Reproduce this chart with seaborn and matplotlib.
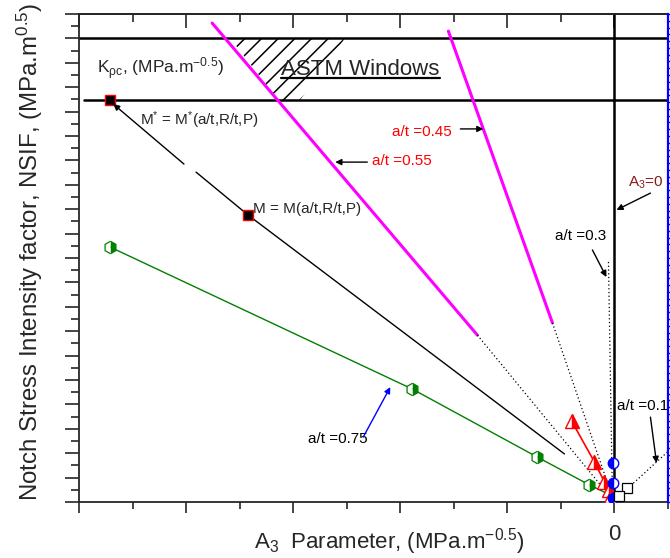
import matplotlib
matplotlib.use("Agg")
import numpy as np
import pandas as pd
import seaborn as sns
import matplotlib.pyplot as plt
from matplotlib.ticker import MultipleLocator
from matplotlib.patches import Polygon

# ---- data (A3 parameter, NSIF) ----
green_x = [-4.71, -1.888, -0.720, -0.234, -0.04]
green_y = [10.45, 4.63, 1.84, 0.70, 0.29]

red_x = [-0.40, -0.187, -0.093, -0.047, -0.028]
red_y = [3.32, 1.64, 0.82, 0.49, 0.25]

blue_x = [-0.01, -0.01, -0.01]
blue_y = [1.60, 0.78, 0.16]

sq_x = [0.121, 0.047]
sq_y = [0.57, 0.25]

m_line_x = [-3.907, -3.421, -0.467]
m_line_y = [13.52, 11.76, 1.97]
m_pts_x = [-4.71, -3.421]
m_pts_y = [16.48, 11.76]

mag55_x = [-3.757, -1.280]
mag55_y = [19.63, 6.84]
mag45_x = [-1.551, -0.579]
mag45_y = [19.30, 7.34]

dot55_x = [-1.280, -0.037]
dot55_y = [6.84, 0.20]
dot45_x = [-0.579, -0.019]
dot45_y = [7.34, 0.20]
dot30_x = [-0.056, -0.019]
dot30_y = [9.84, 0.20]
dot10_x = [0.047, 0.495]
dot10_y = [0.25, 2.05]

kpc_upper = 19.0
kpc_lower = 16.48
hatch_x = [-3.589, -2.514, -2.935, -3.140]
hatch_y = [19.02, 19.02, 16.48, 16.48]

sns.set_style("ticks")
plt.rcParams["font.family"] = ["Liberation Sans", "DejaVu Sans"]
plt.rcParams["mathtext.default"] = "regular"
plt.rcParams["hatch.linewidth"] = 1.1

fig = plt.figure(figsize=(6.7, 5.58), dpi=100)
ax = fig.add_axes([79 / 670, 56 / 558, 589 / 670, 488 / 558])

# window lines
ax.axhline(kpc_upper, color="black", lw=1.8, zorder=2)
ax.plot([-4.95, 0.5], [kpc_lower, kpc_lower], color="black", lw=1.8, zorder=2)
ax.axvline(0, color="black", lw=1.8, zorder=2)
ax.add_patch(Polygon(list(zip(hatch_x, hatch_y)), closed=True, fill=False,
                     hatch="//", lw=0, edgecolor="black"))

# magenta and dotted lines
sns.lineplot(x=mag55_x, y=mag55_y, color="#ff00ff", lw=2.2, sort=False, estimator=None, ax=ax)
sns.lineplot(x=mag45_x, y=mag45_y, color="#ff00ff", lw=2.2, sort=False, estimator=None, ax=ax)
for dx, dy in [(dot55_x, dot55_y), (dot45_x, dot45_y), (dot30_x, dot30_y), (dot10_x, dot10_y)]:
    sns.lineplot(x=dx, y=dy, color="black", lw=0.9, ls=(0, (1, 2)), sort=False, estimator=None, ax=ax)

# black M line
sns.lineplot(x=m_line_x, y=m_line_y, color="black", lw=1.0, sort=False, estimator=None, ax=ax)
sns.lineplot(x=m_pts_x, y=m_pts_y, color="black", lw=0, marker="s", markersize=7,
             markeredgecolor="red", markeredgewidth=1.0, sort=False, estimator=None, ax=ax)

# green hexagons
sns.lineplot(x=green_x, y=green_y, color="green", lw=1.0, marker="h", markersize=9,
             markeredgecolor="green", markeredgewidth=0.9, fillstyle="right",
             markerfacecoloralt="white", markevery=[0, 1, 2, 3],
             sort=False, estimator=None, ax=ax)

# red triangles
sns.lineplot(x=red_x, y=red_y, color="red", lw=1.2, marker="^", markersize=9.5,
             markeredgecolor="red", markeredgewidth=1.0, fillstyle="right",
             markerfacecoloralt="white", sort=False, estimator=None, ax=ax, zorder=4)

# blue circles
sns.lineplot(x=blue_x, y=blue_y, color="blue", lw=0, marker="o", markersize=7.5,
             markeredgecolor="blue", markeredgewidth=1.0, fillstyle="left",
             markerfacecoloralt="white", sort=False, estimator=None, ax=ax, zorder=4)

# black open squares
sns.lineplot(x=sq_x, y=sq_y, color="black", lw=0, marker="s", markersize=6.5,
             markeredgecolor="black", markeredgewidth=0.9, markerfacecolor="white",
             sort=False, estimator=None, ax=ax, zorder=4)

# text and annotations
ax.text(-4.832, 17.55, r"K$_{\rho c}$, (MPa.m$^{-0.5}$)", fontsize=12.5, va="baseline")
astm = ax.text(-3.112, 17.5, "ASTM Windows", fontsize=16, va="baseline")
ax.text(-4.43, 15.45, r"M$^{*}$ = M$^{*}$(a/t,R/t,P)", fontsize=11, va="baseline")
ax.text(-3.374, 11.84, "M = M(a/t,R/t,P)", fontsize=11, va="baseline")

ap = dict(arrowstyle="-|>", color="black", lw=1.0, mutation_scale=9, shrinkA=0, shrinkB=0)
ax.annotate("", xy=(-4.68, 16.31), xytext=(-4.02, 13.85), arrowprops=ap)

ax.text(-2.262, 13.81, "a/t =0.55", color="red", fontsize=11, va="baseline")
ax.annotate("", xy=(-2.607, 13.93), xytext=(-2.308, 13.93), arrowprops=ap)
ax.text(-2.075, 15.0, "a/t =0.45", color="red", fontsize=11, va="baseline")
ax.annotate("", xy=(-1.224, 15.29), xytext=(-1.439, 15.29), arrowprops=ap)
ax.text(0.131, 12.91, r"A$_3$=0", color="#8b1a1a", fontsize=11, va="baseline")
ax.annotate("", xy=(0.019, 11.97), xytext=(0.336, 12.66), arrowprops=ap)
ax.text(-0.551, 10.74, "a/t =0.3", color="black", fontsize=11, va="baseline")
ax.annotate("", xy=(-0.075, 9.22), xytext=(-0.206, 10.33), arrowprops=ap)
ax.text(-2.86, 2.42, "a/t =0.75", color="black", fontsize=11, va="baseline")
ax.annotate("", xy=(-2.093, 4.71), xytext=(-2.346, 2.66),
            arrowprops=dict(ap, color="blue"))
ax.text(0.028, 3.77, "a/t =0.1", color="black", fontsize=11, va="baseline")
ax.annotate("", xy=(0.393, 1.60), xytext=(0.336, 3.48), arrowprops=ap)

# axes limits & ticks
ax.set_xlim(-5, 0.5)
ax.set_ylim(0, 20)
xt = [-5, -4, -3, -2, -1, 0]
ax.set_xticks(xt, labels=["", "", "", "", "", "0"])
ax.xaxis.set_minor_locator(MultipleLocator(0.5))
ax.yaxis.set_major_locator(MultipleLocator(1))
ax.yaxis.set_minor_locator(MultipleLocator(0.5))
ax.set_yticklabels([])
ax.tick_params(axis="x", which="major", direction="out", length=8, width=1.2, labelsize=16, pad=8)
ax.tick_params(axis="x", which="minor", direction="out", length=5, width=1.2)
ax.tick_params(axis="y", which="major", direction="out", length=10, width=1.2)
ax.tick_params(axis="y", which="minor", direction="out", length=6, width=1.2)
for s in ["left", "bottom", "top"]:
    ax.spines[s].set_linewidth(1.3)
ax.spines["right"].set_visible(False)

top = ax.secondary_xaxis("top")
top.set_xticks(xt, labels=[""] * 6)
top.xaxis.set_minor_locator(MultipleLocator(0.5))
top.tick_params(which="major", direction="in", length=10, width=1.2)
top.tick_params(which="minor", direction="in", length=6, width=1.2)
top.spines["top"].set_linewidth(1.3)

rax = ax.twinx()
rax.set_ylim(0, 36)
rax.yaxis.set_major_locator(MultipleLocator(1))
rax.yaxis.set_minor_locator(MultipleLocator(0.5))
rax.set_yticklabels([])
rax.tick_params(axis="y", which="both", direction="out", length=4, width=1.0, color="blue")
rax.spines["right"].set_color("blue")
rax.spines["right"].set_linewidth(1.6)
for s in ["left", "top", "bottom"]:
    rax.spines[s].set_visible(False)

ax.set_xlabel(r"A$_3$  Parameter, (MPa.m$^{-0.5}$)", fontsize=16)
ax.xaxis.set_label_coords(0.527, -0.05, transform=ax.transAxes)
ax.xaxis.label.set_va("top")
ax.set_ylabel(r"Notch Stress Intensity factor, NSIF, (MPa.m$^{0.5}$)", fontsize=17.3)
ax.yaxis.set_label_coords(-0.058, 0.512)

# underline ASTM Windows
fig.canvas.draw()
bb = astm.get_window_extent().transformed(ax.transData.inverted())
ax.plot([bb.x0, bb.x1], [17.38, 17.38], color="black", lw=1.6)

fig.savefig("out.png", dpi=100)
